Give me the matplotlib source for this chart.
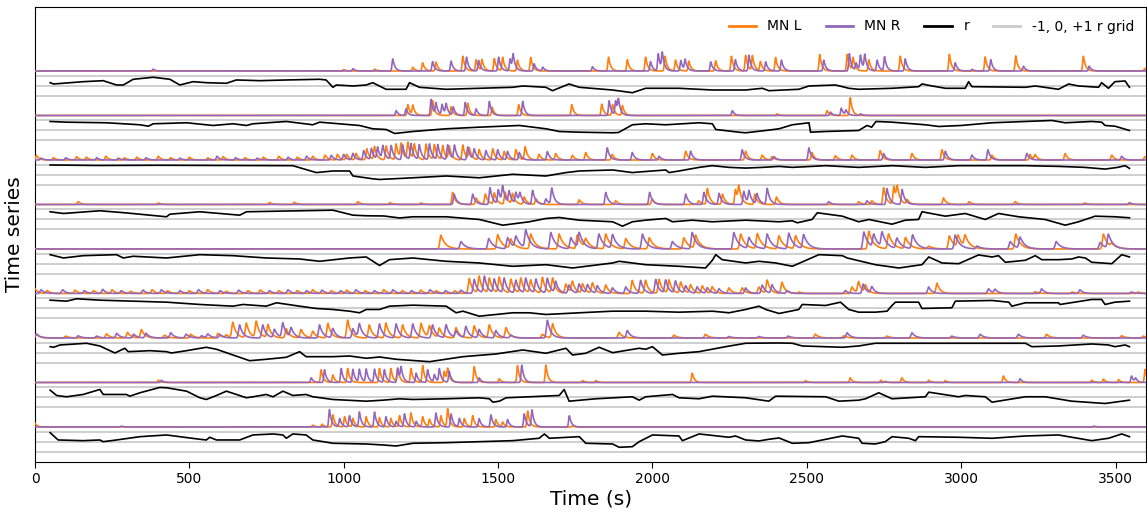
import numpy as np
import matplotlib
matplotlib.use("Agg")
import matplotlib.pyplot as plt
from matplotlib.lines import Line2D

# ---------------------------------------------------------------------------
# Data: nine paired recordings (MN L / MN R) with a sliding-window correlation r
# Peaks are (time in s, amplitude relative to the row maximum).
# ---------------------------------------------------------------------------
row_labels = ["1", "2", "3", "4", "5", "6", "7", "8", "9"]

mnl_1 = [(1000, .08), (1100, .1), (1224, .2), (1256, .44), (1299, .48), (1386, .79), (1429, .6), (1448, .58),
         (1488, .67), (1515, .72), (1563, .58), (1606, .72), (1858, .74), (1919, .6), (1978, .74), (2041, .79),
         (2075, .58), (2118, .53), (2205, .54), (2256, .79), (2302, .84), (2324, .79), (2350, .49), (2399, .72),
         (2542, .88), (2631, .89), (2650, .67), (2701, .6), (2803, .79), (2962, .89), (3078, .75), (3177, .81),
         (3396, .79), (3595, .14)]
mnr_1 = [(383, .1), (1030, .12), (1159, .65), (1288, .5), (1348, .53), (1398, .74), (1437, .56), (1502, .74),
         (1539, .65), (1549, .77), (1617, .39), (1645, .2), (1806, .23), (1994, .5), (2019, .91), (2032, .88),
         (2092, .56), (2106, .56), (2189, .49), (2269, .6), (2313, .84), (2367, .49), (2418, .58), (2555, .58),
         (2638, .93), (2660, .4), (2674, .79), (2688, .79), (2728, .58), (2752, .75), (2819, .65), (2981, .44),
         (3035, .09), (3096, .61), (3202, .26), (3415, .26)]
r_1 = [(49, .33), (60, .2), (156, .43), (221, .53), (264, .1), (286, .1), (318, .67), (383, .87), (437, .67),
       (469, .1), (512, .43), (555, .33), (620, .27), (652, .6), (728, .53), (814, .6), (922, .67), (943, .6),
       (965, -.13), (976, .1), (1030, 0), (1073, .1), (1094, .33), (1137, -.33), (1202, -.33), (1213, .33),
       (1245, -.13), (1332, -.33), (1439, -.23), (1547, -.13), (1580, 0), (1655, -.13), (1676, -.47), (1730, .2),
       (1763, -.13), (1870, -.4), (1935, -.67), (1978, -.23), (2086, -.23), (2194, -.4), (2302, -.4), (2356, -.23),
       (2377, -.47), (2474, -.33), (2507, 0), (2593, .1), (2636, -.23), (2668, -.33), (2776, -.23), (2862, -.07),
       (2873, .2), (2906, 0), (2949, -.23), (3013, -.23), (3024, .43), (3035, -.07), (3208, -.13), (3240, 0),
       (3315, -.33), (3348, .2), (3380, 0), (3445, -.13), (3455, .33), (3477, -.23), (3498, .43), (3531, .5),
       (3545, -.13)]

mnl_2 = [(1208, .58), (1224, .5), (1288, .79), (1348, .47), (1402, .65), (1481, .44), (1567, .58), (1739, .58),
         (1836, .61), (1871, .58), (1903, .53), (2404, .09), (2566, .26), (2641, .95)]
mnr_2 = [(1170, .26), (1202, .35), (1283, .86), (1299, .61), (1319, .56), (1332, .56), (1355, .44), (1394, .7),
         (1429, .35), (1472, .75), (1580, .75), (1860, .79), (1881, .75), (1890, .7), (2259, .26), (2577, .18),
         (2612, .39), (2627, .26), (2674, .09)]
r_2 = [(49, .9), (102, .83), (232, .77), (340, .57), (367, .43), (383, .67), (491, .77), (577, .5), (641, .67),
       (685, .5), (706, .67), (814, .9), (900, .57), (922, .83), (1051, .5), (1094, .17), (1137, .1), (1165, -.3),
       (1224, -.1), (1332, .17), (1439, .33), (1569, .5), (1655, .17), (1698, -.1), (1763, -.17), (1871, -.23),
       (1890, -.2), (1935, .57), (1978, .67), (2043, .57), (2151, .77), (2194, .67), (2205, .1), (2280, -.17),
       (2302, -.23), (2367, 0), (2410, .17), (2453, .57), (2507, .77), (2512, -.17), (2561, -.1), (2668, 0),
       (2695, .5), (2710, .33), (2724, .9), (2776, .83), (2884, .57), (2927, .4), (3000, .5), (3100, .77),
       (3208, .9), (3294, 1.0), (3337, .77), (3423, .9), (3455, .83), (3466, .5), (3498, .43), (3545, 0)]

mnl_3 = [(5, .25), (60, .12), (135, .18), (167, .15), (230, .2), (290, .12), (330, .15), (400, .2), (440, .12),
         (500, .15), (560, .12), (610, .18), (680, .12), (740, .15), (790, .2), (850, .15), (900, .2), (940, .25),
         (980, .3), (1010, .3), (1040, .35), (1075, .6), (1100, .7), (1138, .75), (1170, .85), (1186, .8),
         (1208, .9), (1229, .8), (1267, .85), (1294, .8), (1321, .75), (1342, .7), (1386, .8), (1407, .6),
         (1439, .55), (1483, .6), (1520, .45), (1558, .55), (1588, .7), (1633, .3), (1687, .35), (1741, .25),
         (1784, .4), (1870, .3), (2000, .35), (2108, .47), (2302, .47), (2356, .26), (2388, .18), (2517, .4),
         (2593, .23), (2647, .26), (2738, .5), (2841, .35), (2938, .55), (3100, .26), (3223, .3), (3240, .26),
         (3337, .35), (3488, .26), (3595, .18)]
mnr_3 = [(20, .1), (100, .12), (200, .12), (270, .1), (360, .12), (470, .1), (590, .2), (650, .12), (720, .1),
         (820, .15), (880, .2), (960, .25), (1000, .3), (1030, .35), (1065, .5), (1090, .6), (1110, .65),
         (1127, .7), (1154, .75), (1191, .8), (1218, .85), (1245, .8), (1278, .85), (1305, .8), (1337, .8),
         (1359, .75), (1402, .7), (1423, .55), (1461, .5), (1499, .55), (1531, .45), (1569, .4), (1660, .45),
         (1854, .65), (1935, .4), (2022, .2), (2124, .47), (2291, .55), (2394, .18), (2507, .65), (2749, .35),
         (2949, .47), (3035, .26), (3087, .55), (3213, .35), (3520, .2)]
r_3 = [(49, 1.0), (200, .95), (400, .97), (600, .95), (835, .93), (911, .24), (965, .4), (1019, .4), (1030, -.1),
       (1094, -.38), (1116, -.45), (1224, -.28), (1332, -.1), (1439, -.28), (1547, .07), (1655, -.1), (1720, .24),
       (1763, .4), (1871, .5), (1935, .24), (1957, .3), (2043, .5), (2054, .24), (2086, .4), (2151, .76),
       (2194, .93), (2248, .76), (2302, .69), (2356, .76), (2410, .86), (2453, .76), (2561, .93), (2668, .76),
       (2776, .93), (2884, .76), (2992, .93), (3100, .93), (3208, .93), (3315, .86), (3400, .76), (3466, .59),
       (3507, .76), (3531, .93), (3545, .66)]

mnl_4 = [(140, .15), (400, .08), (760, .1), (840, .12), (1046, .15), (1150, .1), (1250, .08), (1353, .65),
         (1429, .35), (1459, .55), (1488, .6), (1523, .65), (1547, .55), (1585, .4), (1623, .3), (1763, .25),
         (1881, .2), (1999, .3), (2150, .2), (2178, .85), (2227, .55), (2269, .8), (2280, .8), (2332, .55),
         (2402, .4), (2668, .15), (2711, .2), (2749, .9), (2782, .95), (2793, .75), (2825, .25), (2943, .35),
         (3026, .15), (3175, .15), (3400, .08)]
mnr_4 = [(1358, .55), (1418, .55), (1474, .9), (1501, .75), (1515, .85), (1536, .65), (1558, .6), (1571, .5),
         (1612, .75), (1655, .3), (1674, .85), (1849, .65), (1991, .65), (2108, .55), (2167, .65), (2216, .6),
         (2296, .7), (2313, .65), (2339, .55), (2372, .85), (2571, .15), (2695, .2), (2760, .85), (2809, .8),
         (3545, .1)]
r_4 = [(49, .77), (92, .6), (210, .87), (291, .67), (426, .27), (437, .53), (534, .77), (663, .43), (685, .77),
       (857, .87), (965, .93), (1030, .43), (1073, .37), (1130, .35), (1181, .15), (1224, .27), (1332, .27),
       (1439, 0), (1515, -.57), (1601, -.23), (1655, .1), (1698, .2), (1763, -.07), (1871, -.23), (1903, -.67),
       (1935, -.23), (1978, -.07), (2043, .1), (2065, -.23), (2129, -.07), (2194, -.23), (2302, -.07),
       (2410, -.23), (2453, -.13), (2469, -.33), (2517, 0), (2534, .67), (2615, .33), (2668, -.23), (2701, 0),
       (2776, -.47), (2819, -.07), (2862, 0), (2873, .77), (2949, .33), (3013, .6), (3078, 0), (3121, .6),
       (3186, .27), (3272, 0), (3337, -.57), (3380, -.23), (3434, .33), (3498, .27), (3545, .17)]

mnl_5 = [(1315, .74), (1499, .77), (1541, .5), (1606, .8), (1698, .8), (1757, .74), (1784, .45), (1849, .8),
         (1914, .55), (1990, .6), (2102, .6), (2140, .7), (2286, .8), (2340, .8), (2410, .7), (2464, .7),
         (2701, .95), (2765, .8), (2820, .6), (2895, .15), (2962, .7), (2990, .65), (3013, .6), (3177, .8),
         (3461, .8), (3488, .2)]
mnr_5 = [(1380, .4), (1470, .56), (1531, .6), (1558, .6), (1590, .95), (1671, .88), (1736, .6), (1763, .79),
         (1827, .79), (1871, .74), (1968, .79), (2065, .4), (2129, .88), (2264, .88), (2313, .6), (2372, .79),
         (2442, .84), (2490, .74), (2685, .91), (2717, .7), (2744, .79), (2792, .56), (2843, .74), (2981, .74),
         (3052, .15), (3159, .4), (3191, .6), (3308, .4), (3450, .35), (3477, .74)]
r_5 = [(49, .93), (92, .6), (156, .83), (264, .93), (286, .6), (318, .77), (426, .6), (534, .93), (641, .83),
       (749, .6), (857, .5), (922, .27), (1019, .6), (1073, .7), (1116, -.15), (1148, .43), (1224, .6),
       (1278, .43), (1332, .27), (1439, .1), (1547, -.23), (1655, -.07), (1741, -.4), (1871, .1), (1892, .27),
       (1978, -.07), (2086, -.23), (2172, -.4), (2194, .37), (2205, .93), (2226, .43), (2302, .1), (2345, .27),
       (2399, .1), (2453, -.23), (2539, .93), (2615, .83), (2631, .6), (2722, -.07), (2798, -.4), (2873, -.07),
       (2895, .7), (2938, .1), (2992, .03), (3056, .9), (3100, .7), (3121, .83), (3143, .17), (3208, .37),
       (3240, .83), (3261, .43), (3315, .43), (3358, .5), (3380, .7), (3402, .6), (3423, .17), (3488, .03),
       (3520, .93), (3545, .7)]

mnl_6 = [(0, .25), (40, .15), (130, .18), (190, .15), (250, .2), (310, .12), (380, .2), (430, .15), (500, .15),
         (560, .2), (620, .12), (690, .15), (730, .18), (790, .15), (850, .15), (900, .2), (960, .15), (1010, .18),
         (1070, .15), (1130, .2), (1190, .15), (1250, .18), (1300, .15), (1360, .15), (1407, .8), (1439, .9),
         (1472, .8), (1504, .85), (1542, .75), (1574, .8), (1606, .7), (1644, .85), (1677, .8), (1720, .5),
         (1741, .6), (1774, .5), (1806, .55), (1849, .45), (1935, .7), (1978, .7), (2022, .75), (2054, .7),
         (2092, .6), (2124, .45), (2162, .4), (2194, .35), (2248, .3), (2291, .3), (2345, .35), (2372, .7),
         (2420, .6), (2476, .08), (2647, .35), (2668, .6), (2690, .4), (2922, .55), (3240, .1), (3360, .08),
         (3574, .08)]
mnr_6 = [(20, .2), (90, .2), (160, .15), (220, .22), (280, .15), (350, .18), (410, .2), (470, .15), (530, .2),
         (600, .15), (660, .18), (760, .15), (820, .2), (880, .15), (930, .18), (990, .15), (1040, .2), (1100, .15),
         (1160, .2), (1220, .15), (1280, .2), (1330, .15), (1380, .18), (1423, .75), (1456, .9), (1488, .75),
         (1520, .8), (1558, .7), (1590, .8), (1623, .75), (1660, .8), (1687, .6), (1730, .45), (1763, .5),
         (1790, .45), (1822, .4), (1871, .3), (1914, .35), (1962, .7), (2011, .75), (2043, .7), (2075, .65),
         (2108, .4), (2145, .35), (2178, .3), (2216, .25), (2302, .3), (2356, .45), (2388, .45), (2437, .15),
         (2625, .15), (2683, .5), (2711, .35), (2895, .35), (3089, .25), (3110, .2), (3261, .25), (3385, .2),
         (3552, .08)]
r_6 = [(49, .83), (102, .73), (135, .97), (210, .83), (318, .73), (426, .63), (534, .4), (641, .23), (674, .4),
       (749, .23), (782, .57), (857, .23), (911, 0), (965, -.1), (1019, -.27), (1051, -.43), (1073, -.1),
       (1116, -.1), (1148, .23), (1224, .33), (1332, .23), (1364, -.43), (1386, -.27), (1439, -.77),
       (1547, -.43), (1601, -.43), (1655, -.6), (1763, -.43), (1871, -.27), (1978, -.27), (2086, -.37),
       (2194, -.27), (2248, -.43), (2302, -.1), (2345, .23), (2367, -.1), (2410, -.5), (2474, -.1), (2485, .4),
       (2561, .3), (2609, .63), (2636, -.1), (2668, -.37), (2722, -.37), (2760, -.27), (2776, .3), (2787, .63),
       (2862, .63), (2873, 0), (2970, .07), (2981, .73), (3100, .8), (3154, .63), (3164, .23), (3208, .57),
       (3315, .57), (3320, .4), (3423, .9), (3455, .9), (3466, .4), (3498, .63), (3545, .73)]

mnl_7 = [(5, .2), (100, .1), (232, .22), (300, .3), (345, .45), (420, .15), (505, .2), (593, .25), (620, .15),
         (641, .82), (685, .78), (717, .86), (755, .7), (814, .5), (862, .45), (900, .35), (949, .78), (1013, .95),
         (1083, .7), (1137, .8), (1191, .7), (1251, .78), (1278, .6), (1310, .5), (1364, .55), (1423, .65),
         (1472, .7), (1526, .55), (1644, .2), (1677, .75), (1892, .3), (2070, .15), (2172, .2), (2528, .2),
         (2620, .12), (2760, .1), (3277, .2), (3520, .12), (3590, .1)]
mnr_7 = [(5, .22), (140, .12), (200, .1), (265, .25), (320, .2), (360, .25), (440, .28), (490, .2), (540, .12),
         (560, .2), (600, .18), (663, .7), (738, .7), (776, .45), (803, .78), (830, .5), (922, .7), (965, .5),
         (1030, .5), (1051, .7), (1116, .75), (1170, .75), (1224, .75), (1288, .7), (1332, .7), (1364, .35),
         (1396, .6), (1439, .45), (1493, .4), (1542, .15), (1660, .95), (1919, .4), (2248, .08), (2345, .08),
         (2440, .1), (2631, .28), (2841, .28), (2970, .1), (3062, .2), (3186, .2), (3396, .15)]
r_7 = [(49, .63), (60, .57), (81, .8), (167, .97), (210, .7), (259, 0), (291, .47), (302, .13), (372, .23),
       (426, .13), (442, 0), (491, .23), (555, .57), (588, .37), (641, -.2), (695, -.77), (749, -.63),
       (814, -.43), (857, .13), (878, -.37), (965, -.37), (1019, -.3), (1073, -.53), (1116, -.4), (1170, -.63),
       (1278, -.87), (1386, -.37), (1493, -.1), (1580, .3), (1655, -.03), (1720, .47), (1741, -.2), (1784, -.03),
       (1827, .57), (1871, .03), (1957, .47), (1978, .37), (2000, .63), (2032, -.2), (2086, -.03), (2151, .13),
       (2237, .63), (2302, .97), (2410, 1.0), (2453, .97), (2485, .7), (2615, .57), (2668, .7), (2722, .97),
       (3100, .97), (3208, .97), (3229, .63), (3315, .7), (3423, .9), (3477, .8), (3498, .63), (3531, .8),
       (3545, .63)]

mnl_8 = [(400, .12), (927, .68), (965, .4), (1013, .75), (1116, .75), (1153, .75), (1175, .75), (1218, .75),
         (1256, .9), (1326, .6), (1337, .65), (1423, .85), (1504, .2), (1563, .9), (1655, .93), (1774, .1),
         (1817, .1), (2129, .5), (2496, .1), (2641, .25), (2740, .12), (2808, .25), (2895, .12), (2949, .1),
         (3137, .35), (3423, .12), (3461, .18), (3510, .15), (3596, .7)]
mnr_8 = [(410, .12), (895, .25), (938, .68), (992, .75), (1030, .7), (1051, .68), (1073, .7), (1100, .7),
         (1132, .68), (1175, .75), (1186, .7), (1235, .5), (1272, .68), (1294, .4), (1310, .7), (1342, .6),
         (1439, .25), (1577, .93), (2754, .06), (3191, .2), (3552, .35), (3565, .2)]
r_8 = [(49, .73), (70, .2), (102, .07), (156, .3), (210, .8), (221, .3), (296, .3), (307, .13), (340, .47),
       (404, 1.0), (426, .97), (491, .63), (534, -.03), (555, -.2), (588, .2), (620, .63), (685, -.03),
       (706, .07), (749, .3), (771, .07), (803, .63), (835, .2), (878, .3), (900, .07), (965, -.2), (1073, -.37),
       (1127, -.27), (1181, -.13), (1224, -.2), (1332, -.13), (1439, -.03), (1472, -.13), (1483, -.47),
       (1504, -.37), (1526, -.03), (1601, .07), (1698, .2), (1714, .8), (1730, -.37), (1817, -.13), (1935, .07),
       (1957, -.27), (1978, .07), (2065, .3), (2086, -.03), (2151, -.13), (2194, .13), (2302, -.03),
       (2377, -.37), (2399, .13), (2561, .07), (2604, -.37), (2668, -.27), (2690, -.13), (2733, .47),
       (2776, -.13), (2884, .07), (2895, .53), (2992, .07), (3013, .2), (3078, .07), (3100, -.47), (3208, .07),
       (3272, .07), (3358, -.37), (3466, -.6), (3545, -.27)]

mnl_9 = [(0, .2), (900, .1), (930, .15), (965, .65), (1003, .55), (1030, .45), (1073, .55), (1116, .5),
         (1153, .45), (1181, .6), (1218, .75), (1256, .55), (1278, .4), (1315, .6), (1337, .95), (1391, .45),
         (1418, .6), (1493, .4), (1515, .25), (1596, .85), (1741, .05)]
mnr_9 = [(280, .05), (954, .93), (987, .45), (1019, .6), (1051, .8), (1100, .8), (1137, .55), (1170, .3),
         (1197, .7), (1235, .3), (1299, .75), (1348, .7), (1375, .45), (1439, .45), (1477, .65), (1531, .4),
         (1585, .7), (1610, .9), (1731, .6), (3430, .05)]
r_9 = [(49, .93), (75, .2), (156, .13), (210, .2), (221, .03), (264, .2), (340, .53), (426, .7), (534, .27),
       (555, .2), (566, .47), (588, .2), (663, .2), (706, .7), (771, .8), (803, .7), (814, .37), (835, .8),
       (878, .7), (900, .2), (965, -.13), (1073, -.2), (1127, -.3), (1170, -.4), (1224, -.13), (1332, -.07),
       (1439, .03), (1547, .13), (1633, .37), (1650, .8), (1666, .37), (1763, .53), (1784, -.13), (1871, -.2),
       (1892, -.53), (1935, -.47), (1957, .03), (2000, .7), (2086, .6), (2097, .13), (2151, .8), (2248, .47),
       (2269, .6), (2302, .2), (2345, .1), (2377, .27), (2410, .4), (2453, -.13), (2507, -.07), (2615, .6),
       (2668, .37), (2679, -.13), (2722, -.2), (2754, .03), (2776, .53), (2830, .37), (2852, .13), (2862, .53),
       (2992, .47), (3100, .37), (3208, .6), (3315, .7), (3423, .13), (3477, .37), (3520, .8), (3545, .53)]

mn_left = [mnl_1, mnl_2, mnl_3, mnl_4, mnl_5, mnl_6, mnl_7, mnl_8, mnl_9]
mn_right = [mnr_1, mnr_2, mnr_3, mnr_4, mnr_5, mnr_6, mnr_7, mnr_8, mnr_9]
r_series = [r_1, r_2, r_3, r_4, r_5, r_6, r_7, r_8, r_9]

# transient rise width and decay constant (s) per recording
rise_s = [3.5, 3.5, 4, 4, 5, 5, 5, 3.5, 3.5]
decay_s = [7, 7, 8, 9, 15, 10, 11, 7, 7]
x_ticks = [0, 500, 1000, 1500, 2000, 2500, 3000, 3500]

# ---------------------------------------------------------------------------
# Layout of each row (data units, one row = 1.0)
# ---------------------------------------------------------------------------
TRACE_SCALE = 0.42      # height of a full-scale transient
R_ZERO = -0.337         # offset of the r = 0 line under the trace baseline
R_SCALE = 0.225         # distance between r = 0 and r = +/-1

t = np.arange(0.0, 3600.5, 1.0)


def transient_trace(peaks, rise, tau):
    y = np.zeros_like(t)
    for t0, amp in peaks:
        d = t - t0
        shape = np.where(d < 0, np.exp(-(d / rise) ** 2), np.exp(-np.clip(d, 0, None) / tau))
        y = y + amp * shape
    return np.minimum(y, 1.05)


C_L = "#ff7f0e"
C_R = "#9467bd"
C_GRID = "#cccccc"

fig = plt.figure(figsize=(11.47, 5.12), dpi=100)
ax = fig.add_axes([35 / 1147, 1 - 462 / 512, 1 - 35 / 1147 - 0.0005, (462 - 7) / 512])

for i in range(len(row_labels)):
    base = -float(i)
    for rv in (1, 0, -1):
        ax.axhline(base + R_ZERO + R_SCALE * rv, color=C_GRID, lw=1.3, zorder=1)
    yl = transient_trace(mn_left[i], rise_s[i], decay_s[i])
    yr = transient_trace(mn_right[i], rise_s[i], decay_s[i])
    ax.plot(t, base + TRACE_SCALE * yl, color=C_L, lw=1.2, zorder=3)
    ax.plot(t, base + TRACE_SCALE * yr, color=C_R, lw=1.2, zorder=4)
    rt = [p[0] for p in r_series[i]]
    rv_ = [p[1] for p in r_series[i]]
    ax.plot(rt, base + R_ZERO + R_SCALE * np.array(rv_), color="black", lw=1.2, zorder=5)

ax.set_xlim(0, 3600)
ax.set_ylim(-8.787, 1.438)
ax.set_yticks([])
ax.set_xticks(x_ticks)
ax.tick_params(axis="x", labelsize=10, length=4)
ax.set_xlabel("Time (s)", fontsize=14.5, labelpad=2)
ax.set_ylabel("Time series", fontsize=14.5, labelpad=8)

handles = [Line2D([], [], color=C_L, lw=2), Line2D([], [], color=C_R, lw=2),
           Line2D([], [], color="black", lw=2), Line2D([], [], color=C_GRID, lw=2)]
ax.legend(handles, ["MN L", "MN R", "r", "-1, 0, +1 r grid"], loc="upper right", ncol=4,
          frameon=False, fontsize=10, columnspacing=1.7)

fig.savefig("out.png", dpi=100)
